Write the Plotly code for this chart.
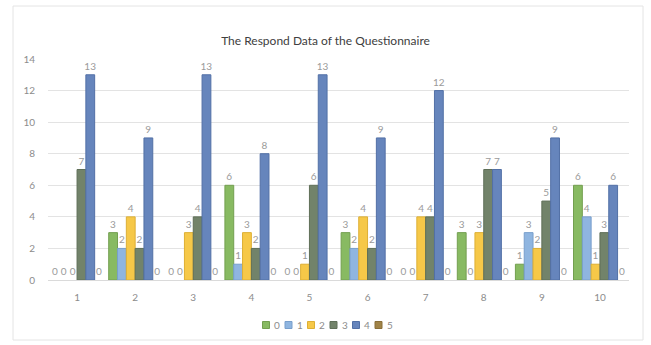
import plotly.graph_objects as go

# Questionnaire responses: counts per answer option (0-5) for each question 1-10
questions = ["1", "2", "3", "4", "5", "6", "7", "8", "9", "10"]
option_names = ["0", "1", "2", "3", "4", "5"]
opt0 = [0, 3, 0, 6, 0, 3, 0, 3, 1, 6]
opt1 = [0, 2, 0, 1, 0, 2, 0, 0, 3, 4]
opt2 = [0, 4, 3, 3, 1, 4, 4, 3, 2, 1]
opt3 = [7, 2, 4, 2, 6, 2, 4, 7, 5, 3]
opt4 = [13, 9, 13, 8, 13, 9, 12, 7, 9, 6]
opt5 = [0, 0, 0, 0, 0, 0, 0, 0, 0, 0]
y_ticks = [0, 2, 4, 6, 8, 10, 12, 14]

series = [opt0, opt1, opt2, opt3, opt4, opt5]
colors = ["#88BA62", "#8FB5E0", "#F6C848", "#72836A", "#6685BC", "#A08347"]
edges = ["#739F50", "#789FCC", "#DDAF35", "#5F6F58", "#5270A6", "#8A6F38"]

W, H = 651, 345
L, R, T, B = 48, 22, 59, 65

pw, ph = W - L - R, H - T - B
def px_x(p):
    return (p - L) / pw
def px_y(p):
    return (H - B - p) / ph

fig = go.Figure()
for name, vals, c, e in zip(option_names, series, colors, edges):
    fig.add_trace(go.Bar(
        x=questions, y=vals, name=name,
        marker=dict(color=c, line=dict(color=e, width=[1 if v > 0 else 0 for v in vals])),
        text=[str(v) for v in vals], textposition="outside",
        textfont=dict(size=10, color="#9A9A9A"),
        cliponaxis=False, showlegend=False,
    ))

# faint frame around the whole chart
fig.add_shape(type="rect", xref="paper", yref="paper",
              x0=px_x(13), x1=px_x(643), y0=px_y(340), y1=px_y(6),
              line=dict(color="#E4E4E4", width=1), layer="below")

# compact legend row: small coloured squares followed by the option name
step = 22.5
start = 266
leg_y = 325
for i, (name, c, e) in enumerate(zip(option_names, colors, edges)):
    sx = start + i * step
    fig.add_shape(type="rect", xref="paper", yref="paper",
                  x0=px_x(sx - 3.5), x1=px_x(sx + 3.5),
                  y0=px_y(leg_y + 3.5), y1=px_y(leg_y - 3.5),
                  fillcolor=c, line=dict(color=e, width=1))
    fig.add_annotation(xref="paper", yref="paper", x=px_x(sx + 6), y=px_y(leg_y),
                       text=name, showarrow=False, xanchor="left", yanchor="middle",
                       font=dict(size=10, color="#8C8C8C"))

fig.update_layout(
    width=W, height=H,
    margin=dict(l=L, r=R, t=T, b=B, autoexpand=False),
    paper_bgcolor="white", plot_bgcolor="white",
    font=dict(family="Lato, Open Sans, sans-serif", color="#8C8C8C", size=10),
    title=dict(text="The Respond Data of the Questionnaire", x=0.5, xanchor="center",
               y=1 - 41 / H, yanchor="middle",
               font=dict(size=12, color="#404040")),
    barmode="group", bargap=0.09, bargroupgap=0.0,
    uniformtext=dict(minsize=10, mode="show"),
    showlegend=False,
    xaxis=dict(showgrid=False, ticks="", showline=False, automargin=False,
               ticklabelstandoff=10, tickfont=dict(size=10, color="#8C8C8C")),
    yaxis=dict(range=[0, 14], tickvals=y_ticks, showgrid=True, gridcolor="#E3E3E3", gridwidth=1,
               zeroline=True, zerolinecolor="#DADADA", zerolinewidth=1, automargin=False,
               ticks="", ticklabelstandoff=12, tickfont=dict(size=10, color="#8C8C8C")),
)

fig.write_html("out.html")
